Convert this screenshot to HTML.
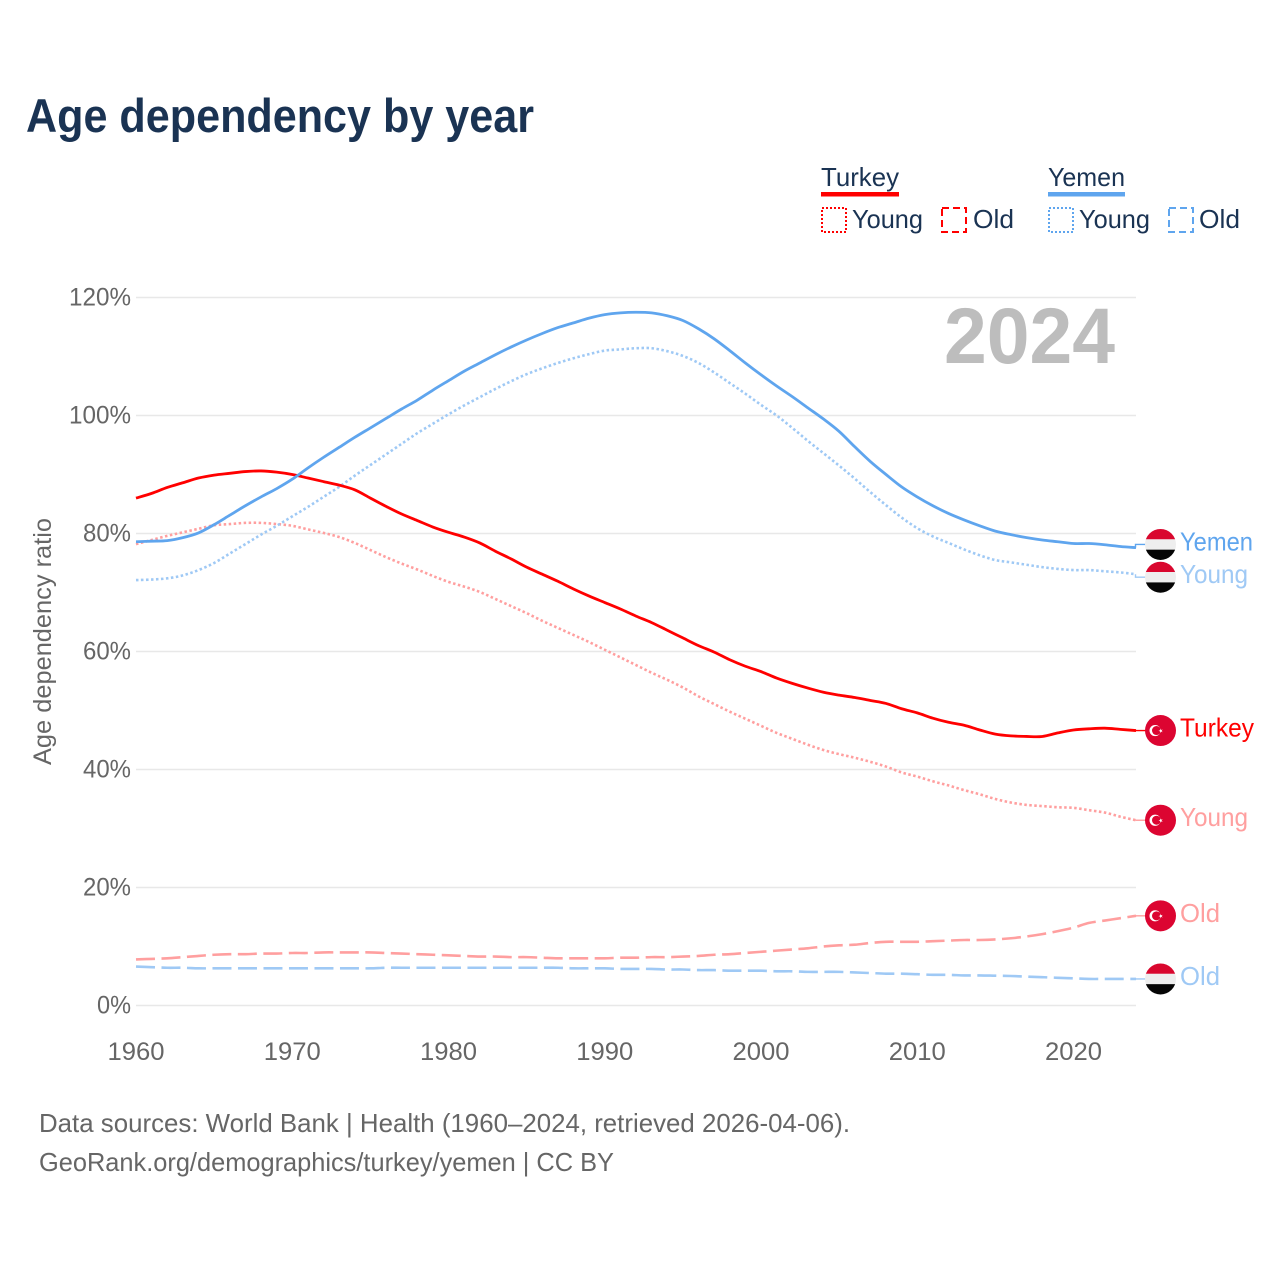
<!DOCTYPE html>
<html lang="en">
<head>
<meta charset="utf-8">
<title>Age dependency by year</title>
<style>
html,body{margin:0;padding:0;background:#fff;}
svg{display:block;font-family:"Liberation Sans",sans-serif;}
</style>
</head>
<body>
<svg id="chart" xmlns="http://www.w3.org/2000/svg" width="1280" height="1280" viewBox="0 0 1280 1280">
  <rect width="1280" height="1280" fill="#ffffff"/>
  <defs><clipPath id="flag-clip"><circle cx="0" cy="0" r="15.5"/></clipPath></defs>

  <text x="26" y="132" font-size="47" font-weight="700" fill="#1a3353" textLength="508" lengthAdjust="spacingAndGlyphs">Age dependency by year</text>

  <g font-size="26" fill="#1a3353">
    <text x="821" y="186" textLength="78" lengthAdjust="spacingAndGlyphs">Turkey</text>
    <rect x="821" y="192" width="78" height="4.5" fill="#ff0000"/>
    <rect x="822" y="208" width="24" height="24" fill="none" stroke="#ff0000" stroke-width="2" stroke-dasharray="2 2"/>
    <text x="852" y="228" textLength="71" lengthAdjust="spacingAndGlyphs">Young</text>
    <rect x="942" y="208" width="24" height="24" fill="none" stroke="#ff0000" stroke-width="2" stroke-dasharray="7 4"/>
    <text x="973" y="228" textLength="41" lengthAdjust="spacingAndGlyphs">Old</text>
    <text x="1048" y="186" textLength="77" lengthAdjust="spacingAndGlyphs">Yemen</text>
    <rect x="1048" y="192" width="77" height="4.5" fill="#5fa5ee"/>
    <rect x="1049" y="208" width="24" height="24" fill="none" stroke="#5fa5ee" stroke-width="2" stroke-dasharray="2 2"/>
    <text x="1079" y="228" textLength="71" lengthAdjust="spacingAndGlyphs">Young</text>
    <rect x="1169" y="208" width="24" height="24" fill="none" stroke="#5fa5ee" stroke-width="2" stroke-dasharray="7 4"/>
    <text x="1199" y="228" textLength="41" lengthAdjust="spacingAndGlyphs">Old</text>
  </g>

  <g id="grid"></g>
  <g id="y-ticks"></g>
  <g id="x-ticks"></g>

  <text transform="translate(51 641.5) rotate(-90)" text-anchor="middle" font-size="25" fill="#666666" textLength="247" lengthAdjust="spacingAndGlyphs">Age dependency ratio</text>

  <text x="944" y="363" font-size="79" font-weight="700" fill="#bdbdbd" textLength="171" lengthAdjust="spacingAndGlyphs">2024</text>

  <g id="series"></g>
  <g id="end-labels"></g>

  <g font-size="26" fill="#666666">
    <text x="39" y="1132" textLength="811" lengthAdjust="spacingAndGlyphs">Data sources: World Bank | Health (1960–2024, retrieved 2026-04-06).</text>
    <text x="39" y="1171" textLength="575" lengthAdjust="spacingAndGlyphs">GeoRank.org/demographics/turkey/yemen | CC BY</text>
  </g>
</svg>

<script>
const years = [1960,1961,1962,1963,1964,1965,1966,1967,1968,1969,1970,1971,1972,1973,1974,1975,1976,1977,1978,1979,1980,1981,1982,1983,1984,1985,1986,1987,1988,1989,1990,1991,1992,1993,1994,1995,1996,1997,1998,1999,2000,2001,2002,2003,2004,2005,2006,2007,2008,2009,2010,2011,2012,2013,2014,2015,2016,2017,2018,2019,2020,2021,2022,2023,2024];
const turkeyTotal = [86.0,86.8,87.8,88.6,89.4,89.9,90.2,90.5,90.6,90.4,90.0,89.4,88.8,88.2,87.4,86.0,84.6,83.3,82.2,81.1,80.2,79.4,78.4,77.0,75.7,74.3,73.1,71.9,70.6,69.4,68.3,67.2,66.0,64.9,63.6,62.3,61.0,59.9,58.6,57.5,56.6,55.5,54.6,53.8,53.1,52.6,52.2,51.7,51.2,50.3,49.6,48.7,48.0,47.5,46.7,46.0,45.7,45.6,45.6,46.2,46.7,46.9,47.0,46.8,46.6];
const turkeyYoung = [78.2,78.9,79.6,80.2,80.8,81.4,81.6,81.8,81.8,81.6,81.3,80.7,80.1,79.4,78.4,77.2,76.0,74.9,73.9,72.8,71.8,71.0,70.1,68.9,67.7,66.5,65.2,64.0,62.8,61.6,60.3,59.0,57.7,56.4,55.2,53.9,52.4,51.1,49.8,48.6,47.4,46.2,45.2,44.2,43.3,42.6,42.0,41.3,40.5,39.5,38.8,38.0,37.3,36.5,35.8,35.0,34.4,34.0,33.8,33.6,33.5,33.1,32.7,32.0,31.4];
const turkeyOld = [7.8,7.9,8.0,8.2,8.4,8.6,8.7,8.7,8.8,8.8,8.9,8.9,9.0,9.0,9.0,9.0,8.9,8.8,8.7,8.6,8.5,8.4,8.3,8.3,8.2,8.2,8.1,8.0,8.0,8.0,8.0,8.1,8.1,8.2,8.2,8.3,8.4,8.6,8.7,8.9,9.1,9.3,9.5,9.7,10.0,10.2,10.3,10.6,10.8,10.8,10.8,10.9,11.0,11.1,11.1,11.2,11.4,11.7,12.1,12.6,13.2,14.0,14.4,14.8,15.2];
const yemenTotal = [78.6,78.7,78.8,79.3,80.1,81.5,83.1,84.7,86.2,87.6,89.2,91.1,92.9,94.6,96.3,97.9,99.5,101.1,102.6,104.3,105.9,107.5,108.9,110.3,111.6,112.8,113.9,114.9,115.7,116.5,117.1,117.4,117.5,117.4,116.9,116.1,114.7,113.0,111.0,108.9,106.9,105.0,103.2,101.3,99.4,97.3,94.7,92.2,90.0,87.9,86.2,84.7,83.4,82.3,81.3,80.4,79.8,79.3,78.9,78.6,78.3,78.3,78.1,77.8,77.6];
const yemenYoung = [72.1,72.2,72.4,72.9,73.8,75.0,76.6,78.2,79.8,81.3,82.9,84.5,86.2,87.9,89.8,91.6,93.4,95.2,97.0,98.6,100.2,101.7,103.1,104.5,105.8,107.0,108.0,108.9,109.7,110.4,111.0,111.2,111.4,111.4,110.9,110.1,108.9,107.3,105.5,103.7,101.8,100.0,97.9,95.7,93.6,91.5,89.3,87.0,84.8,82.7,80.9,79.5,78.4,77.3,76.3,75.5,75.1,74.7,74.3,74.0,73.8,73.8,73.6,73.4,73.1];
const yemenOld = [6.6,6.5,6.4,6.4,6.3,6.3,6.3,6.3,6.3,6.3,6.3,6.3,6.3,6.3,6.3,6.3,6.4,6.4,6.4,6.4,6.4,6.4,6.4,6.4,6.4,6.4,6.4,6.4,6.3,6.3,6.3,6.2,6.2,6.2,6.1,6.1,6.0,6.0,5.9,5.9,5.9,5.8,5.8,5.7,5.7,5.7,5.6,5.5,5.4,5.4,5.3,5.2,5.2,5.1,5.1,5.05,5.0,4.9,4.8,4.7,4.6,4.5,4.5,4.5,4.5];
const yTickValues = [0,20,40,60,80,100,120];
const yTickLabels = ['0%','20%','40%','60%','80%','100%','120%'];
const xTickValues = [1960,1970,1980,1990,2000,2010,2020];
const xTickLabels = ['1960','1970','1980','1990','2000','2010','2020'];

const SVG_NS = 'http://www.w3.org/2000/svg';
const xScale = function (year) { return 136 + (year - 1960) * (1000 / 64); };
const yScale = function (value) { return 1005.5 - value * 5.9; };

function make(tag, attrs, parent) {
  const el = document.createElementNS(SVG_NS, tag);
  for (const key in attrs) { el.setAttribute(key, attrs[key]); }
  parent.appendChild(el);
  return el;
}

const gridGroup = document.getElementById('grid');
const yTickGroup = document.getElementById('y-ticks');
const xTickGroup = document.getElementById('x-ticks');
yTickValues.forEach(function (value, i) {
  const line = make('line', { x1: 136, x2: 1136, y1: yScale(value), y2: yScale(value), stroke: '#e8e8e8', 'stroke-width': 1.5 }, gridGroup);
  
  
  const tickWidth = (yTickLabels[i].length - 1) * 14 + 20;
  const label = make('text', { x: 131, y: yScale(value) + 8, 'text-anchor': 'end', 'font-size': 25, fill: '#666666', textLength: tickWidth, lengthAdjust: 'spacingAndGlyphs' }, yTickGroup);
  
  
  label.textContent = yTickLabels[i];
});
xTickValues.forEach(function (value, i) {
  const label = make('text', { x: xScale(value), y: 1060, 'text-anchor': 'middle', 'font-size': 25, fill: '#666666', textLength: 57, lengthAdjust: 'spacingAndGlyphs' }, xTickGroup);
  
  
  label.textContent = xTickLabels[i];
});

const seriesList = [
  { key: 'yemen-old', values: yemenOld, color: '#9fc9f5', width: 2.6, dash: '19 6.5', text: 'Old', flag: 'yemen', nudge: 0, len: 40 },
  { key: 'turkey-old', values: turkeyOld, color: '#ff9f9f', width: 2.6, dash: '19 6.5', text: 'Old', flag: 'turkey', nudge: 0, len: 40 },
  { key: 'turkey-young', values: turkeyYoung, color: '#ff9f9f', width: 2.6, dash: '2.5 2.5', text: 'Young', flag: 'turkey', nudge: 0, len: 68 },
  { key: 'yemen-young', values: yemenYoung, color: '#9fc9f5', width: 2.6, dash: '2.5 2.5', text: 'Young', flag: 'yemen', nudge: 3, len: 68 },
  { key: 'turkey-total', values: turkeyTotal, color: '#ff0000', width: 2.8, dash: '', text: 'Turkey', flag: 'turkey', nudge: 0, len: 74 },
  { key: 'yemen-total', values: yemenTotal, color: '#5fa5ee', width: 2.8, dash: '', text: 'Yemen', flag: 'yemen', nudge: -3.2, len: 73 }
];

const seriesGroup = document.getElementById('series');
const endGroup = document.getElementById('end-labels');

function smoothPath(values) {
  const pts = values.map(function (v, i) { return [xScale(years[i]), yScale(v)]; });
  let d = 'M' + pts[0][0].toFixed(2) + ' ' + pts[0][1].toFixed(2);
  for (let i = 0; i < pts.length - 1; i++) {
    const p0 = pts[Math.max(i - 1, 0)];
    const p1 = pts[i];
    const p2 = pts[i + 1];
    const p3 = pts[Math.min(i + 2, pts.length - 1)];
    const c1x = p1[0] + (p2[0] - p0[0]) / 6;
    const c1y = p1[1] + (p2[1] - p0[1]) / 6;
    const c2x = p2[0] - (p3[0] - p1[0]) / 6;
    const c2y = p2[1] - (p3[1] - p1[1]) / 6;
    d += ' C' + c1x.toFixed(2) + ' ' + c1y.toFixed(2) + ' ' + c2x.toFixed(2) + ' ' + c2y.toFixed(2) + ' ' + p2[0].toFixed(2) + ' ' + p2[1].toFixed(2);
  }
  return d;
}

function drawFlag(kind, cy, parent) {
  const flag = make('g', { transform: 'translate(1160.5 ' + cy + ')' }, parent);
  const inner = make('g', { 'clip-path': 'url(#flag-clip)' }, flag);
  if (kind === 'yemen') {
    make('rect', { x: -16, y: -16, width: 32, height: 11, fill: '#d9072e' }, inner);
    make('rect', { x: -16, y: -5.2, width: 32, height: 10.6, fill: '#eeeeee' }, inner);
    make('rect', { x: -16, y: 5.2, width: 32, height: 11, fill: '#050505' }, inner);
  } else {
    make('rect', { x: -16, y: -16, width: 32, height: 32, fill: '#dc0531' }, inner);
    make('circle', { cx: -5.4, cy: 0, r: 5.6, fill: '#ffffff' }, inner);
    make('circle', { cx: -4, cy: 0, r: 4.5, fill: '#dc0531' }, inner);
    make('polygon', { points: '-0.4,-2 0.5,-0.6 2.2,-1 1.1,0.3 2.2,1.7 0.5,1.1 -0.4,2.6 -0.4,0.8 -2,0.3 -0.4,-0.3', fill: '#ffffff' }, inner);
  }
  return flag;
}

seriesList.forEach(function (s) {
  const attrs = { d: smoothPath(s.values), fill: 'none', stroke: s.color, 'stroke-width': s.width, 'stroke-linejoin': 'round' };
  if (s.dash) { attrs['stroke-dasharray'] = s.dash; }
  const path = make('path', attrs, seriesGroup);
  
  

  const lastValue = s.values[s.values.length - 1];
  const endY = yScale(lastValue);
  const labelY = endY + s.nudge;
  const connector = make('path', { d: 'M1135.5 ' + endY + ' V' + labelY + ' H1146', fill: 'none', stroke: s.color, 'stroke-width': 1.4 }, endGroup);
  
  

  const flag = drawFlag(s.flag, labelY, endGroup);
  
  

  const label = make('text', { x: 1180, y: labelY + 6, 'font-size': 26, fill: s.color, textLength: s.len, lengthAdjust: 'spacingAndGlyphs' }, endGroup);
  
  
  label.textContent = s.text;
});
</script>
</body>
</html>
